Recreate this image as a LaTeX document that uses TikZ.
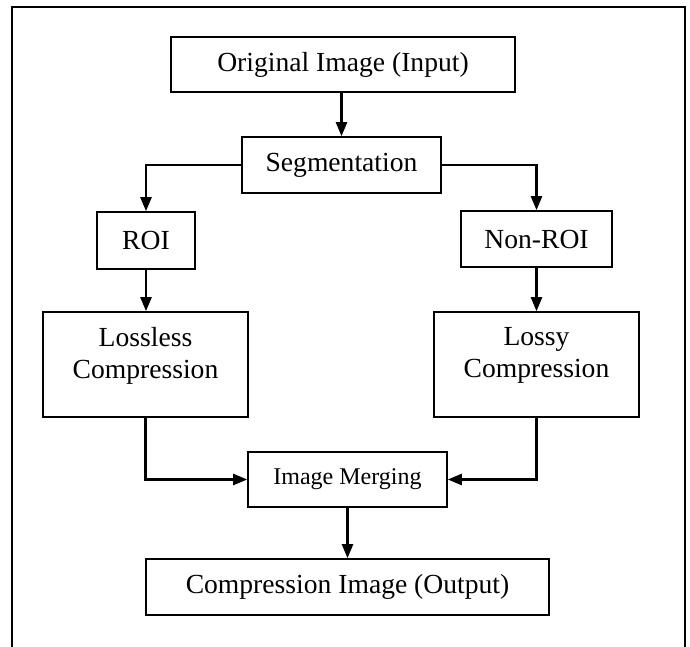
\documentclass[tikz,border=0pt]{standalone}
\usepackage{fontspec}
\setmainfont{Liberation Serif}
\usetikzlibrary{arrows.meta}

\begin{document}
\begin{tikzpicture}[>={Triangle[length=14pt,width=11pt]}, x=1pt, y=-1pt,
    box/.style={draw, line width=1.6pt, inner sep=0pt, align=center,
        font=\fontsize{27.6}{32}\selectfont},
    arrowline/.style={->, draw=black, line width=2.4pt}]

    \useasboundingbox (0,0) rectangle (690,647);

    % Outer frame (open at the bottom)
    \draw[line width=2.2pt] (12,660) -- (12,7) -- (685,7) -- (685,660);

    % Input and segmentation
    \node[box, minimum width=344pt, minimum height=55pt] (orig) at (343,64.5) {Original Image (Input)};
    \node[box, minimum width=199pt, minimum height=56pt] (seg) at (341.5,165) {Segmentation};

    % The two regions
    \node[box, minimum width=98pt, minimum height=57pt] (roi) at (146,240.5) {ROI};
    \node[box, minimum width=151pt, minimum height=56pt] (nonroi) at (536.5,239) {Non-ROI};

    % Compression of each region
    \node[box, minimum width=205pt, minimum height=105pt, text depth=24pt] (lossless) at (145.5,364.5) {Lossless\\Compression};
    \node[box, minimum width=205pt, minimum height=105pt, text depth=24pt] (lossy) at (536.5,364.5) {Lossy\\Compression};

    % Merging and output
    \node[box, minimum width=199pt, minimum height=55pt, font=\fontsize{24}{28}\selectfont] (merge) at (347.5,479.5) {Image Merging};
    \node[box, minimum width=403pt, minimum height=56pt] (output) at (347.5,587) {Compression Image (Output)};

    \draw[arrowline] (orig.south -| seg.north) -- (seg.north);
    \draw[arrowline] (seg.west) -| (roi.north);
    \draw[arrowline] (seg.east) -| (nonroi.north);
    \draw[arrowline] (roi.south) -- (lossless.north -| roi.south);
    \draw[arrowline] (nonroi.south) -- (lossy.north);
    \draw[arrowline] (lossless.south) |- (merge.west);
    \draw[arrowline] (lossy.south) |- (merge.east);
    \draw[arrowline] (merge.south) -- (output.north);

\end{tikzpicture}
\end{document}
